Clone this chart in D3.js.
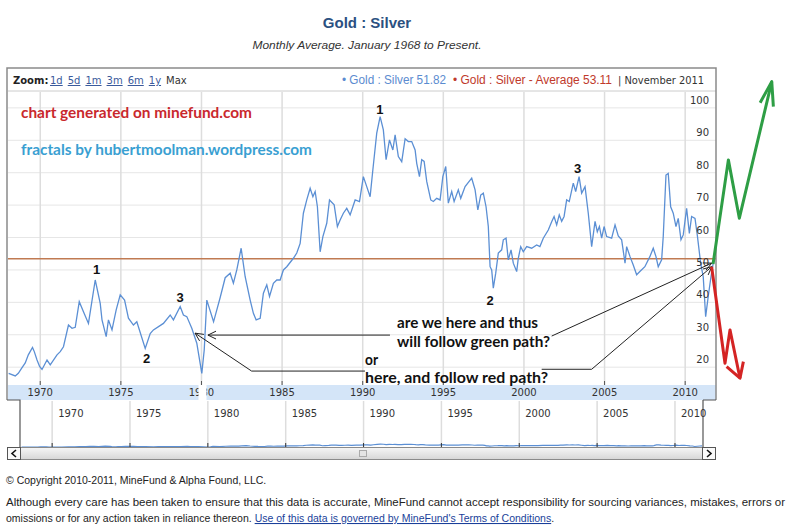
<!DOCTYPE html>
<html lang="en">
<head>
<meta charset="utf-8">
<title>Gold : Silver</title>
<style>
  body { margin: 0; background: #fff; }
  svg text { font-family: "Liberation Sans", Arial, sans-serif; }
</style>
</head>
<body>
<div id="chart"></div>
<script src="https://d3js.org/d3.v7.min.js"></script>
<script>
// monthly average gold : silver ratio (decimal years)
var years = [1968.04, 1968.45, 1968.64, 1968.85, 1969.07, 1969.26, 1969.52, 1969.63, 1969.80, 1969.96,
  1970.11, 1970.42, 1970.62, 1971.04, 1971.24, 1971.44, 1971.75, 1971.97, 1972.17, 1972.42,
  1972.68, 1972.99, 1973.41, 1973.72, 1973.83, 1974.09, 1974.23, 1974.45, 1974.71, 1974.96,
  1975.23, 1975.47, 1975.78, 1975.99, 1976.51, 1976.82, 1977.02, 1977.64, 1978.06, 1978.26,
  1978.68, 1978.88, 1979.09, 1979.40, 1979.71, 1980.02, 1980.17, 1980.33, 1980.75, 1981.16,
  1981.47, 1981.78, 1981.98, 1982.19, 1982.46, 1982.71, 1983.02, 1983.22, 1983.39, 1983.64,
  1983.84, 1984.05, 1984.22, 1984.46, 1984.67, 1984.88, 1985.08, 1985.29, 1985.70, 1985.91,
  1986.12, 1986.32, 1986.53, 1986.74, 1986.91, 1987.05, 1987.19, 1987.36, 1987.53, 1987.77,
  1987.94, 1988.23, 1988.43, 1988.60, 1988.80, 1989.01, 1989.22, 1989.53, 1989.80, 1990.04,
  1990.25, 1990.46, 1990.63, 1990.87, 1991.08, 1991.28, 1991.45, 1991.66, 1991.87, 1992.01,
  1992.21, 1992.42, 1992.63, 1992.83, 1993.04, 1993.25, 1993.35, 1993.52, 1993.66, 1993.81,
  1993.97, 1994.22, 1994.38, 1994.59, 1994.80, 1994.97, 1995.15, 1995.31, 1995.52, 1995.67,
  1995.93, 1996.08, 1996.35, 1996.76, 1996.97, 1997.14, 1997.32, 1997.48, 1997.65, 1997.79,
  1997.90, 1998.00, 1998.10, 1998.25, 1998.41, 1998.62, 1998.72, 1998.89, 1999.03, 1999.20,
  1999.34, 1999.55, 1999.65, 1999.80, 1999.96, 2000.17, 2000.48, 2000.79, 2000.99, 2001.20,
  2001.51, 2001.72, 2001.87, 2002.03, 2002.19, 2002.34, 2002.49, 2002.65, 2002.81, 2003.06,
  2003.21, 2003.42, 2003.58, 2003.79, 2003.99, 2004.20, 2004.41, 2004.55, 2004.68, 2004.82,
  2004.97, 2005.13, 2005.44, 2005.65, 2005.85, 2006.06, 2006.27, 2006.37, 2006.58, 2006.78,
  2006.99, 2007.19, 2007.50, 2007.81, 2008.02, 2008.19, 2008.33, 2008.54, 2008.64, 2008.81,
  2008.95, 2009.10, 2009.26, 2009.43, 2009.57, 2009.74, 2009.88, 2010.09, 2010.26, 2010.40,
  2010.61, 2010.75, 2010.96, 2011.12, 2011.27, 2011.43, 2011.60, 2011.74];
var ratio = [18.1, 17.3, 18.1, 19.7, 21.3, 23.8, 26.1, 24.8, 22.2, 20.2,
  19.3, 22.2, 20.7, 23.8, 24.8, 26.3, 33.0, 32.0, 32.3, 40.2,
  37.1, 33.5, 46.9, 39.7, 34.6, 29.4, 34.6, 31.5, 37.7, 42.3,
  40.7, 35.1, 33.0, 34.0, 25.8, 30.4, 31.5, 33.5, 36.1, 34.6,
  38.7, 36.1, 35.6, 32.0, 27.4, 18.1, 25.3, 40.7, 34.0, 41.5,
  47.6, 49.0, 45.9, 50.0, 56.7, 47.9, 40.7, 36.6, 34.6, 35.1,
  42.8, 45.4, 41.8, 45.9, 46.9, 46.9, 50.0, 51.0, 53.6, 55.2,
  58.2, 67.5, 71.6, 75.2, 72.6, 74.2, 69.5, 55.6, 60.3, 64.4,
  71.6, 70.1, 63.4, 65.4, 67.5, 69.0, 67.0, 71.6, 71.1, 78.8,
  75.7, 72.6, 80.9, 92.2, 97.3, 93.2, 84.0, 90.1, 87.0, 91.7,
  85.0, 83.4, 90.5, 89.6, 89.6, 87.0, 82.9, 78.8, 84.0, 83.5,
  77.3, 71.6, 71.1, 72.1, 71.6, 78.8, 81.9, 70.6, 74.2, 71.1,
  74.7, 72.1, 75.7, 78.3, 74.7, 68.5, 73.1, 73.7, 69.5, 63.4,
  51.0, 50.0, 44.4, 49.0, 55.2, 56.2, 59.3, 59.8, 53.1, 56.2,
  52.1, 49.5, 53.6, 57.2, 55.6, 57.2, 56.7, 57.7, 57.2, 59.8,
  62.3, 64.9, 66.5, 63.9, 67.0, 65.0, 66.5, 71.6, 71.1, 76.8,
  74.2, 78.8, 73.7, 75.7, 67.5, 57.2, 65.0, 61.8, 63.4, 59.8,
  63.4, 60.3, 59.8, 63.9, 60.5, 59.3, 52.1, 57.2, 54.1, 51.5,
  48.5, 49.5, 51.0, 54.1, 56.7, 54.1, 51.0, 53.1, 60.3, 79.3,
  79.8, 69.5, 67.5, 63.4, 65.9, 59.3, 60.8, 69.0, 61.3, 66.5,
  65.9, 60.8, 52.1, 47.9, 35.6, 41.8, 47.9, 52.1];

var yTicks = [20, 30, 40, 50, 60, 70, 80, 90, 100];
var xTicks = [1970, 1975, 1980, 1985, 1990, 1995, 2000, 2005, 2010];
var latest = 51.82, average = 53.11, lastMonth = "November 2011";
var zoomLinks = ["1d", "5d", "1m", "3m", "6m", "1y"];

// hand drawn notes, in chart units [year, ratio]
var waveLabels = [
  {t: "1", at: [1973.50, 50.2]}, {t: "2", at: [1976.60, 22.7]}, {t: "3", at: [1978.67, 41.6]},
  {t: "1", at: [1991.07, 99.7]}, {t: "2", at: [1997.90, 40.7]}, {t: "3", at: [2003.33, 81.4]}
];
var pointers = [
  [[1991.69, 29.9], [1980.40, 29.9]],
  [[2001.72, 29.6], [2011.65, 52.1]],
  [[1990.14, 18.8], [1983.11, 18.8], [1979.60, 30.5]],
  [[2001.10, 19.35], [2004.20, 19.35], [2011.65, 51.0]]
];
var greenPath = [[2011.73, 51.85], [2012.68, 83.95], [2013.36, 65.96], [2015.37, 108.1]];
var greenHead = [[2014.65, 101.6], [2015.37, 108.1], [2015.47, 100.4]];
var redPath = [[2011.64, 51.0], [2012.47, 21.2], [2012.78, 31.5], [2013.40, 16.6]];
var redHead = [[2012.57, 20.2], [2013.40, 16.6], [2013.61, 21.7]];

var W = 800, H = 527;
var svg = d3.select("#chart").append("svg").attr("width", W).attr("height", H);

var x = d3.scaleLinear().domain([1968, 2011.85]).range([8, 715]);
var y = d3.scaleLinear().domain([14.5, 104.9]).range([385, 92]);
var nx = d3.scaleLinear().domain([1968, 2011.8]).range([21, 703]);
var ny = d3.scaleLinear().domain([10, 100]).range([447.5, 444]);

var series = years.map(function(d, i) { return {yr: d, v: ratio[i]}; });

// title
svg.append("text").attr("x", 367).attr("y", 28).attr("text-anchor", "middle")
  .style("font-size", "15px").style("font-weight", "bold").attr("fill", "#2b5081")
  .text("Gold : Silver");
svg.append("text").attr("x", 367).attr("y", 49).attr("text-anchor", "middle")
  .attr("textLength", 229).attr("lengthAdjust", "spacingAndGlyphs")
  .style("font-size", "11.5px").style("font-style", "italic").attr("fill", "#333")
  .text("Monthly Average. January 1968 to Present.");

// axis band + gridlines
svg.append("rect").attr("x", 8).attr("y", 385).attr("width", 708).attr("height", 15).attr("fill", "#d4e5f8");

svg.append("g").selectAll("line").data(yTicks).enter().append("line")
  .attr("x1", 8).attr("x2", 716)
  .attr("y1", function(d) { return y(d); }).attr("y2", function(d) { return y(d); })
  .attr("stroke", "#e6e6e6").attr("stroke-width", 1);

svg.append("g").selectAll("line").data(xTicks).enter().append("line")
  .attr("x1", function(d) { return x(d); }).attr("x2", function(d) { return x(d); })
  .attr("y1", 92).attr("y2", 385)
  .attr("stroke", "#dddddd").attr("stroke-width", 1.5);

svg.append("g").selectAll("line").data(xTicks).enter().append("line")
  .attr("x1", function(d) { return x(d); }).attr("x2", function(d) { return x(d); })
  .attr("y1", 381).attr("y2", 385).attr("stroke", "#555");

svg.append("g").selectAll("text").data(xTicks).enter().append("text")
  .attr("x", function(d) { return x(d); }).attr("y", 396).attr("text-anchor", "middle")
  .style("font-family", "'DejaVu Sans', Verdana, sans-serif").style("font-size", "10px").attr("fill", "#333")
  .text(function(d) { return d; });
// scratched out bit of the 1980 label
svg.append("rect").attr("x", 198.5).attr("y", 385).attr("width", 8).attr("height", 15).attr("fill", "#fff");

// average line
svg.append("line").attr("x1", 8).attr("x2", 716).attr("y1", y(average) - 1).attr("y2", y(average) - 1)
  .attr("stroke", "#c07a52").attr("stroke-width", 1.5);

// ratio line
svg.append("clipPath").attr("id", "plot").append("rect").attr("x", 8).attr("y", 92).attr("width", 708).attr("height", 293);
svg.append("path").datum(series).attr("clip-path", "url(#plot)")
  .attr("fill", "none").attr("stroke", "#5b8fd4").attr("stroke-width", 1.3)
  .attr("d", d3.line().x(function(d) { return x(d.yr); }).y(function(d) { return y(d.v); }));

// y labels (inside, right)
svg.append("g").selectAll("text").data(yTicks).enter().append("text")
  .attr("x", 709).attr("y", function(d) { return y(d) - 4; }).attr("text-anchor", "end")
  .style("font-family", "'DejaVu Sans', Verdana, sans-serif").style("font-size", "10px").attr("fill", "#333")
  .text(function(d) { return d; });

// header row
svg.append("line").attr("x1", 8).attr("x2", 716).attr("y1", 91).attr("y2", 91).attr("stroke", "#ccc");
svg.append("text").attr("x", 13).attr("y", 84)
  .style("font-family", "'DejaVu Sans', Verdana, sans-serif").style("font-size", "10px").style("font-weight", "bold")
  .attr("fill", "#222").text("Zoom:");
var lx = 50;
zoomLinks.concat(["Max"]).forEach(function(s, i) {
  var t = svg.append("text").attr("x", lx).attr("y", 84)
    .style("font-family", "'DejaVu Sans', Verdana, sans-serif").style("font-size", "10px")
    .attr("fill", i < zoomLinks.length ? "#3a5a9c" : "#333")
    .style("text-decoration", i < zoomLinks.length ? "underline" : "none")
    .text(s);
  lx += t.node().getComputedTextLength() + 5;
});
svg.append("text").attr("x", 342).attr("y", 84).attr("textLength", 104).attr("lengthAdjust", "spacingAndGlyphs")
  .style("font-family", "'Liberation Sans Narrow', 'Liberation Sans', Arial, sans-serif").style("font-size", "12.5px")
  .attr("fill", "#5b8bd0").text("\u2022 Gold : Silver " + latest.toFixed(2));
svg.append("text").attr("x", 453).attr("y", 84).attr("textLength", 159).attr("lengthAdjust", "spacingAndGlyphs")
  .style("font-family", "'Liberation Sans Narrow', 'Liberation Sans', Arial, sans-serif").style("font-size", "12.5px")
  .attr("fill", "#c0392b").text("\u2022 Gold : Silver - Average " + average.toFixed(2));
svg.append("text").attr("x", 618).attr("y", 84).attr("textLength", 86).attr("lengthAdjust", "spacingAndGlyphs")
  .style("font-family", "'DejaVu Sans', Verdana, sans-serif").style("font-size", "10px")
  .attr("fill", "#333").text("| " + lastMonth);

// frame
svg.append("path").attr("fill", "none").attr("stroke", "#8a8a8a").attr("stroke-width", 1.5)
  .attr("d", "M7,400 L7,68 L716,68 L716,400");
svg.append("path").attr("fill", "none").attr("stroke", "#555").attr("stroke-width", 1.2)
  .attr("d", "M7,400 L20,400 L20,447 M703,400 L703,447 M703,400 L716,400");

// navigator
svg.append("g").selectAll("line").data(xTicks).enter().append("line")
  .attr("x1", function(d) { return nx(d); }).attr("x2", function(d) { return nx(d); })
  .attr("y1", 401).attr("y2", 447).attr("stroke", "#ddd").attr("stroke-width", 1.5);
svg.append("g").selectAll("text").data(xTicks).enter().append("text")
  .attr("x", function(d) { return nx(d) + 6; }).attr("y", 417)
  .style("font-family", "'DejaVu Sans', Verdana, sans-serif").style("font-size", "10px").attr("fill", "#333")
  .text(function(d) { return d; });
svg.append("path").datum(series).attr("fill", "none").attr("stroke", "#5b8fd4").attr("stroke-width", 1.2)
  .attr("d", d3.line().x(function(d) { return nx(d.yr); }).y(function(d) { return ny(d.v); }));
svg.append("g").selectAll("line").data(xTicks).enter().append("line")
  .attr("x1", function(d) { return nx(d); }).attr("x2", function(d) { return nx(d); })
  .attr("y1", 443).attr("y2", 447).attr("stroke", "#333");

// scrollbar
var grad = svg.append("defs").append("linearGradient").attr("id", "sb").attr("x1", 0).attr("x2", 0).attr("y1", 0).attr("y2", 1);
grad.append("stop").attr("offset", "0%").attr("stop-color", "#f6f6f6");
grad.append("stop").attr("offset", "100%").attr("stop-color", "#d6d6d6");
svg.append("rect").attr("x", 7.5).attr("y", 447.5).attr("width", 708).attr("height", 12)
  .attr("fill", "url(#sb)").attr("stroke", "#8a8a8a");
svg.append("rect").attr("x", 7.5).attr("y", 447.5).attr("width", 13).attr("height", 12).attr("fill", "#fafafa").attr("stroke", "#555");
svg.append("rect").attr("x", 702.5).attr("y", 447.5).attr("width", 13).attr("height", 12).attr("fill", "#fafafa").attr("stroke", "#555");
svg.append("path").attr("d", "M16,450 L12,453.5 L16,457").attr("fill", "none").attr("stroke", "#111").attr("stroke-width", 1.6);
svg.append("path").attr("d", "M707,450 L711,453.5 L707,457").attr("fill", "none").attr("stroke", "#111").attr("stroke-width", 1.6);
svg.append("rect").attr("x", 359.5).attr("y", 450.5).attr("width", 7).attr("height", 6).attr("fill", "#e4e4e4").attr("stroke", "#aaa");

// notes
var P = function(p) { return [x(p[0]), y(p[1])]; };
svg.append("text").attr("x", 21).attr("y", 118).attr("textLength", 231).attr("lengthAdjust", "spacingAndGlyphs")
  .style("font-family", "Lato, 'Open Sans', sans-serif").style("font-size", "15.5px").style("font-weight", "bold")
  .attr("fill", "#c9282d").text("chart generated on minefund.com");
svg.append("text").attr("x", 21).attr("y", 155).attr("textLength", 291).attr("lengthAdjust", "spacingAndGlyphs")
  .style("font-family", "Lato, 'Open Sans', sans-serif").style("font-size", "15.5px").style("font-weight", "bold")
  .attr("fill", "#3a9fd2").text("fractals by hubertmoolman.wordpress.com");

svg.append("g").selectAll("text").data(waveLabels).enter().append("text")
  .attr("x", function(d) { return P(d.at)[0]; }).attr("y", function(d) { return P(d.at)[1] + 5; })
  .attr("text-anchor", "middle").style("font-size", "13px").style("font-weight", "bold").attr("fill", "#111")
  .text(function(d) { return d.t; });

var notes = [
  {t: "are we here and thus", x: 397, y: 328, w: 141},
  {t: "will follow green path?", x: 397, y: 347, w: 153},
  {t: "or", x: 365, y: 365, w: 13},
  {t: "here, and follow red path?", x: 365, y: 383, w: 183}
];
svg.append("g").selectAll("text").data(notes).enter().append("text")
  .attr("x", function(d) { return d.x; }).attr("y", function(d) { return d.y; })
  .attr("textLength", function(d) { return d.w; }).attr("lengthAdjust", "spacingAndGlyphs")
  .style("font-family", "Lato, 'Open Sans', sans-serif").style("font-size", "15px").style("font-weight", "bold")
  .attr("fill", "#111").text(function(d) { return d.t; });

function arrowHead(a, b, len, spread) {
  var ang = Math.atan2(b[1] - a[1], b[0] - a[0]);
  var l = [b[0] - len * Math.cos(ang - spread), b[1] - len * Math.sin(ang - spread)];
  var r = [b[0] - len * Math.cos(ang + spread), b[1] - len * Math.sin(ang + spread)];
  return [l, b, r];
}
pointers.forEach(function(pts) {
  var px = pts.map(P);
  svg.append("path").attr("fill", "none").attr("stroke", "#222").attr("stroke-width", 1)
    .attr("d", d3.line()(px));
  svg.append("path").attr("fill", "none").attr("stroke", "#222").attr("stroke-width", 1)
    .attr("d", d3.line()(arrowHead(px[px.length - 2], px[px.length - 1], 9, 0.45)));
});

[[greenPath, greenHead, "#2e9e45"], [redPath, redHead, "#d42424"]].forEach(function(g) {
  svg.append("path").attr("fill", "none").attr("stroke", g[2]).attr("stroke-width", 3)
    .attr("stroke-linejoin", "round").attr("d", d3.line()(g[0].map(P)));
  svg.append("path").attr("fill", "none").attr("stroke", g[2]).attr("stroke-width", 3)
    .attr("stroke-linejoin", "round").attr("d", d3.line()(g[1].map(P)));
});

// footer
svg.append("text").attr("x", 6).attr("y", 484).style("font-size", "10.5px").attr("fill", "#222")
  .text("\u00A9 Copyright 2010-2011, MineFund & Alpha Found, LLC.");
svg.append("text").attr("x", 6).attr("y", 506).attr("textLength", 779).attr("lengthAdjust", "spacingAndGlyphs")
  .style("font-size", "10.5px").attr("fill", "#222")
  .text("Although every care has been taken to ensure that this data is accurate, MineFund cannot accept responsibility for sourcing variances, mistakes, errors or");
var last = svg.append("text").attr("x", 6).attr("y", 522).style("font-size", "10.5px").attr("fill", "#222");
last.append("tspan").text("omissions or for any action taken in reliance thereon. ");
last.append("tspan").attr("fill", "#1a3f9a").style("text-decoration", "underline")
  .text("Use of this data is governed by MineFund's Terms of Conditions");
last.append("tspan").text(".");
</script>
</body>
</html>
